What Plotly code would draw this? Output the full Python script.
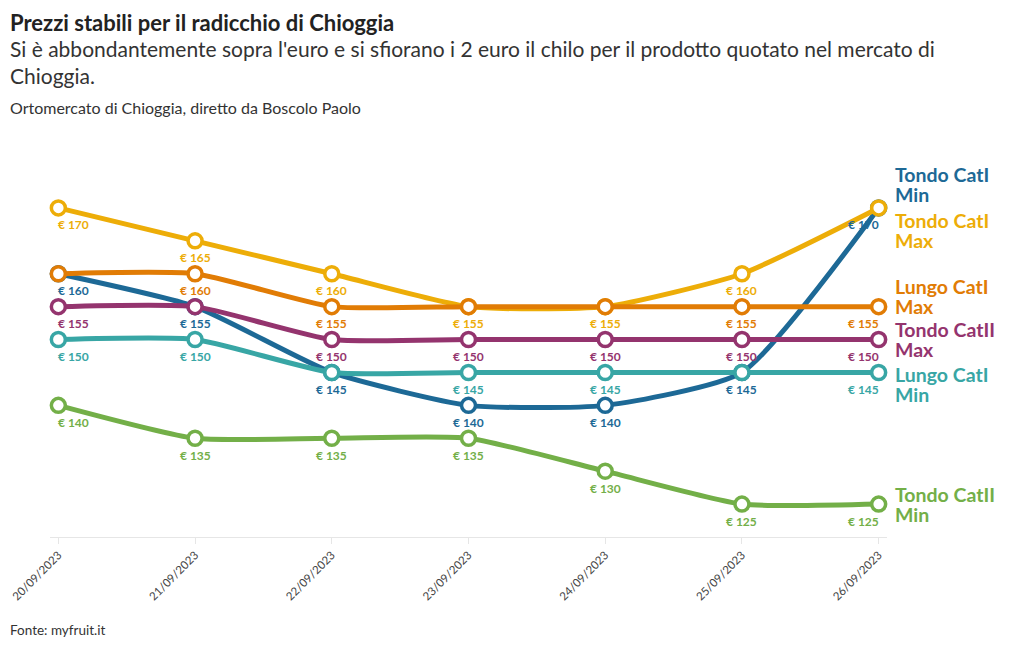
import plotly.graph_objects as go

# ---------------- data ----------------
dates = ["20/09/2023", "21/09/2023", "22/09/2023", "23/09/2023",
         "24/09/2023", "25/09/2023", "26/09/2023"]

series_names = ["Tondo CatI Min", "Tondo CatI Max", "Lungo CatI Max",
                "Tondo CatII Max", "Lungo CatI Min", "Tondo CatII Min"]

tondo_cat1_min = [160, 155, 145, 140, 140, 145, 170]
tondo_cat1_max = [170, 165, 160, 155, 155, 160, 170]
lungo_cat1_max = [160, 160, 155, 155, 155, 155, 155]
tondo_cat2_max = [155, 155, 150, 150, 150, 150, 150]
lungo_cat1_min = [150, 150, 145, 145, 145, 145, 145]
tondo_cat2_min = [140, 135, 135, 135, 130, 125, 125]

series_values = [tondo_cat1_min, tondo_cat1_max, lungo_cat1_max,
                 tondo_cat2_max, lungo_cat1_min, tondo_cat2_min]

# ---------------- styles ----------------
colors = ["#1D6996", "#EDAD08", "#E17C05", "#94346E", "#38A6A5", "#73AF48"]
label_lines = ["Tondo CatI<br>Min", "Tondo CatI<br>Max", "Lungo CatI<br>Max",
               "Tondo CatII<br>Max", "Lungo CatI<br>Min", "Tondo CatII<br>Min"]
label_yshift = [23, -23, 10, 0, -12, 0]

FONT = "Source Sans Pro, Lato, sans-serif"
W, H = 1020, 650
ML, MR, MT, MB = 50, 133, 175, 113
plot_h = H - MT - MB


def ypaper(ypx):
    return (H - MB - ypx) / plot_h


fig = go.Figure()

n = len(dates)
for name, vals, col in zip(series_names, series_values, colors):
    fig.add_trace(go.Scatter(
        x=dates, y=vals, name=name, mode="lines+markers",
        line=dict(color=col, width=5, shape="spline", smoothing=0.55),
        marker=dict(size=14, color="white", line=dict(color=col, width=3.5)),
        cliponaxis=False, showlegend=False,
    ))

# value labels (one per date/value; earlier series win on ties)
seen = [set() for _ in range(n)]
for name, vals, col in zip(series_names, series_values, colors):
    for i, v in enumerate(vals):
        if v in seen[i]:
            continue
        seen[i].add(v)
        if i == 0:
            xa, xs = "left", -2
        elif i == n - 1:
            xa, xs = "right", 2
        else:
            xa, xs = "center", 0
        fig.add_annotation(
            x=dates[i], y=v, xref="x", yref="y", text=f"<b>€ {v}</b>",
            showarrow=False, xanchor=xa, yanchor="middle", xshift=xs, yshift=-17,
            font=dict(family=FONT, size=12, color=col),
        )

# end labels (small base font => tight line spacing, larger span font)
for name, vals, col, lab, ys in zip(series_names, series_values, colors,
                                    label_lines, label_yshift):
    fig.add_annotation(
        x=dates[-1], y=vals[-1], xref="x", yref="y",
        text="<br>".join(f'<span style="font-size:19.5px"><b>{t}</b></span>'
                         for t in lab.split("<br>")),
        xanchor="left", yanchor="middle", align="left", showarrow=False,
        xshift=14, yshift=ys,
        font=dict(family=FONT, size=15, color=col),
    )
    if ys != 0:
        fig.add_shape(
            type="line", xref="x", yref="y", xsizemode="pixel", ysizemode="pixel",
            xanchor=dates[-1], yanchor=vals[-1],
            x0=11, x1=11, y0=0, y1=ys, line=dict(color="#cccccc", width=1),
        )
    fig.add_shape(
        type="line", xref="x", yref="y", xsizemode="pixel", ysizemode="pixel",
        xanchor=dates[-1], yanchor=vals[-1],
        x0=11, x1=14, y0=ys, y1=ys, line=dict(color="#cccccc", width=1),
    )


# titles
def text_ann(txt, ypx, size, color, bold=False):
    fig.add_annotation(
        x=0, xref="paper", xshift=10 - ML - 2, y=ypaper(ypx), yref="paper",
        text=f"<b>{txt}</b>" if bold else txt, showarrow=False,
        xanchor="left", yanchor="middle", align="left",
        font=dict(family=FONT, size=size, color=color),
    )


text_ann("Prezzi stabili per il radicchio di Chioggia", 22, 22, "#222222", True)
text_ann("Si è abbondantemente sopra l'euro e si sfiorano i 2 euro il chilo per il "
         "prodotto quotato nel mercato di<br>Chioggia.", 62, 21, "#333333")
text_ann("Ortomercato di Chioggia, diretto da Boscolo Paolo", 108, 16, "#333333")
text_ann("Fonte: myfruit.it", 630, 13.5, "#333333")

fig.update_layout(
    width=W, height=H, margin=dict(l=ML, r=MR, t=MT, b=MB, autoexpand=False),
    plot_bgcolor="white", paper_bgcolor="white",
    font=dict(family=FONT, color="#333333"),
    xaxis=dict(type="category", range=[-0.061, n - 1 + 0.061], automargin=False,
               showgrid=False, showline=True, linecolor="#e6e6e6", linewidth=1,
               ticks="outside", tickcolor="#e6e6e6", ticklen=6,
               tickangle=-45, tickfont=dict(family=FONT, size=11.5, color="#444444"),
               zeroline=False),
    yaxis=dict(range=[120, 175], visible=False, showgrid=False, zeroline=False,
               automargin=False),
)

fig.write_html("out.html")
